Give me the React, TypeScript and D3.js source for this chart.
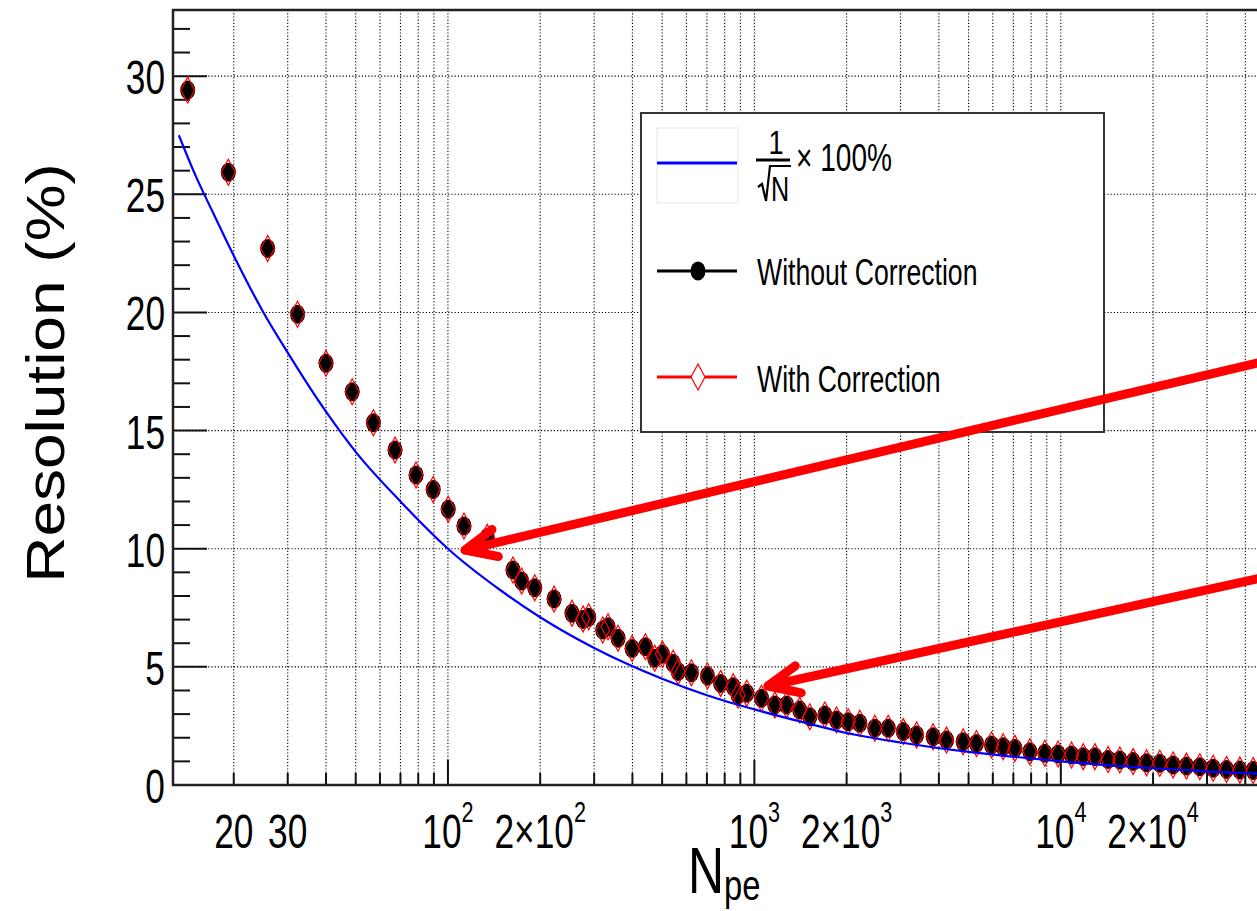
import * as d3 from "d3";

const W = 1257;
const H = 911;
const FRAME = { left: 173, right: 1275, top: 10, bottom: 785 };
const FONT = "'Liberation Sans', Arial, Helvetica, sans-serif";
const SX = 0.72; // the reference is squeezed horizontally

// N_pe of each measured point
const npe = [
  14.15, 19.2, 25.8, 32.3, 40.0, 48.7, 57.1, 67.2, 78.7, 89.5, 100.2, 112.8, 134.4,
  163, 174, 192, 222, 254, 276, 288, 320, 333, 359, 399, 441, 473, 501, 543, 564,
  623, 703, 776, 853, 885, 944, 1055, 1166, 1274, 1406, 1517, 1698, 1854, 2023,
  2208, 2472, 2733, 3061, 3383, 3831, 4237, 4800, 5306, 5942, 6484, 7083, 7925,
  8869, 9796, 10839, 11830, 12920, 14270, 15580, 17220, 19050, 21040, 23250,
  25700, 28420, 31420, 34740, 38400, 42450,
];
const resWithout = [
  29.41, 25.93, 22.71, 19.92, 17.85, 16.64, 15.33, 14.18, 13.12, 12.51, 11.67, 10.96, 10.48,
  9.1, 8.63, 8.35, 7.87, 7.27, 7.0, 7.1, 6.56, 6.7, 6.21, 5.78, 5.85, 5.36, 5.54, 5.15, 4.8,
  4.75, 4.61, 4.3, 4.16, 3.81, 3.88, 3.67, 3.39, 3.39, 3.17, 2.89, 2.96, 2.75, 2.68,
  2.61, 2.4, 2.4, 2.26, 2.12, 2.04, 1.9, 1.83, 1.76, 1.69, 1.62, 1.55, 1.41,
  1.34, 1.31, 1.27, 1.2, 1.2, 1.08, 1.06, 0.99, 0.94, 0.92, 0.85,
  0.8, 0.77, 0.71, 0.66, 0.63, 0.61,
];
const resWith = [
  29.41, 25.93, 22.71, 19.92, 17.85, 16.64, 15.33, 14.18, 13.12, 12.51, 11.67, 10.96, 10.48,
  9.1, 8.63, 8.35, 7.87, 7.27, 7.03, 7.12, 6.56, 6.7, 6.21, 5.78, 5.85, 5.36, 5.54, 5.15, 4.8,
  4.75, 4.61, 4.3, 4.16, 3.81, 3.88, 3.67, 3.39, 3.39, 3.17, 2.89, 2.96, 2.75, 2.68,
  2.61, 2.4, 2.4, 2.26, 2.12, 2.04, 1.9, 1.83, 1.76, 1.69, 1.62, 1.55, 1.41,
  1.34, 1.31, 1.27, 1.2, 1.2, 1.08, 1.06, 0.99, 0.94, 0.92, 0.85,
  0.8, 0.77, 0.71, 0.66, 0.63, 0.61,
];

// 1/sqrt(N) x 100% curve
const curveN = [13.24, 15, 17, 20, 25, 30, 40, 50, 70, 100, 150, 200, 300, 500, 700, 1000, 1500, 2000, 3000, 5000, 7000, 10000, 20000, 30000, 50000];
const curveRes = [27.5, 25.8, 24.3, 22.4, 20.0, 18.3, 15.8, 14.1, 12.0, 10.0, 8.2, 7.1, 5.8, 4.5, 3.8, 3.2, 2.6, 2.2, 1.8, 1.4, 1.2, 1.0, 0.71, 0.58, 0.45];

// labelled x ticks
const xLabelVals = [20, 30, 100, 200, 1000, 2000, 10000, 20000];
const xLabelBase = ["20", "30", "10", "2\u00d710", "10", "2\u00d710", "10", "2\u00d710"];
const xLabelExp = ["", "", "2", "2", "3", "3", "4", "4"];
const yMajor = [0, 5, 10, 15, 20, 25, 30];

// annotation arrows: [tail N, tail res, tip N, tip res]
const arrows = [
  [50000, 18.04, 113.6, 9.94],
  [50000, 8.89, 1107, 4.19],
];

const x = d3.scaleLog().domain([12.67, 50000]).range([FRAME.left, FRAME.right]);
const y = d3.scaleLinear().domain([0, 32.8]).range([FRAME.bottom, FRAME.top]);

const xAll: number[] = [];
for (let e = 1; e <= 4; e++) {
  for (let k = 1; k <= 9; k++) {
    const v = k * 10 ** e;
    if (v > 12.67 && x(v) < W) xAll.push(v);
  }
}
const yMinor = d3.range(1, 33).filter((v) => v % 5 !== 0);

const curveLine = d3
  .line<number>()
  .x((_, i) => x(curveN[i]))
  .y((d) => y(d))
  .curve(d3.curveMonotoneX);

function Txt({ tx, ty, size, anchor = "start", sx = SX, children }: any) {
  return (
    <text
      transform={`translate(${tx},${ty}) scale(${sx},1)`}
      fontSize={size}
      textAnchor={anchor}
      fontFamily={FONT}
      fill="#000"
    >
      {children}
    </text>
  );
}

function arrowPath(a: number[]) {
  const tx = x(a[0]), ty = y(a[1]), hx = x(a[2]), hy = y(a[3]);
  const th = Math.atan2(ty - hy, tx - hx);
  const L = 34, da = (24 * Math.PI) / 180;
  const b1 = [hx + L * Math.cos(th - da), hy + L * Math.sin(th - da)];
  const b2 = [hx + L * Math.cos(th + da), hy + L * Math.sin(th + da)];
  return `M${tx},${ty}L${hx},${hy}M${b1[0]},${b1[1]}L${hx},${hy}L${b2[0]},${b2[1]}`;
}

const diamond = "M0,-13L7,0L0,13L-7,0Z";

export default function App() {
  return (
    <svg width={W} height={H} style={{ position: "absolute", left: 0, top: 0, background: "#fff" }}>
      <rect width={W} height={H} fill="#fff" />

      {/* grid */}
      <g stroke="#000" strokeWidth={1.1} strokeDasharray="1.2,2">
        {xAll.map((v) => (
          <line key={v} x1={x(v)} x2={x(v)} y1={FRAME.top} y2={FRAME.bottom} />
        ))}
        {yMajor.filter((v) => v > 0).map((v) => (
          <line key={v} x1={FRAME.left} x2={FRAME.right} y1={y(v)} y2={y(v)} />
        ))}
      </g>

      {/* axes ticks */}
      <g stroke="#111" strokeWidth={2}>
        {xAll.map((v) => (
          <line key={v} x1={x(v)} x2={x(v)} y1={FRAME.bottom} y2={FRAME.bottom - (Math.log10(v) % 1 === 0 ? 25 : 12)} />
        ))}
        {yMajor.map((v) => (
          <line key={v} x1={FRAME.left} x2={FRAME.left + 34} y1={y(v)} y2={y(v)} />
        ))}
        {yMinor.map((v) => (
          <line key={v} x1={FRAME.left} x2={FRAME.left + 17} y1={y(v)} y2={y(v)} />
        ))}
      </g>
      <path
        d={`M${FRAME.right},${FRAME.top}H${FRAME.left}V${FRAME.bottom}H${FRAME.right}`}
        fill="none"
        stroke="#222"
        strokeWidth={2.5}
      />

      {/* tick labels */}
      {yMajor.map((v) => (
        <Txt key={v} tx={165} ty={y(v) + 18} size={49} anchor="end">
          {v}
        </Txt>
      ))}
      {xLabelVals.map((v, i) => (
        <Txt key={v} tx={x(v)} ty={848} size={49} anchor="middle">
          {xLabelBase[i]}
          {xLabelExp[i] && (
            <tspan fontSize={30} dy={-26}>
              {xLabelExp[i]}
            </tspan>
          )}
        </Txt>
      ))}

      {/* axis titles */}
      <text
        transform={`translate(64,373) rotate(-90) scale(1,0.84)`}
        fontSize={64}
        textAnchor="middle"
        fontFamily={FONT}
      >
        Resolution (%)
      </text>
      <Txt tx={688} ty={893} size={64} sx={0.78}>
        N<tspan fontSize={42} dy={7}>pe</tspan>
      </Txt>

      {/* data */}
      <g fill="#000">
        {npe.map((n, i) => (
          <ellipse key={i} cx={x(n)} cy={y(resWithout[i])} rx={7.5} ry={9.5} />
        ))}
      </g>
      <g fill="none" stroke="#ff0000" strokeWidth={1.2}>
        {npe.map((n, i) => (
          <path key={i} d={diamond} transform={`translate(${x(n)},${y(resWith[i])})`} />
        ))}
      </g>
      <path d={curveLine(curveRes) ?? ""} fill="none" stroke="#0000ff" strokeWidth={2.2} />

      {/* legend */}
      <rect x={641} y={113} width={463} height={319} fill="#fff" stroke="#333" strokeWidth={2} />
      <rect x={657} y={128} width={81} height={75} fill="none" stroke="#eee" strokeWidth={1.5} />
      <line x1={657} x2={737} y1={163} y2={163} stroke="#0000ff" strokeWidth={3} />
      <Txt tx={776} ty={154} size={34} anchor="middle" sx={0.8}>1</Txt>
      <line x1={756} x2={790} y1={160} y2={160} stroke="#000" strokeWidth={2.8} />
      <path d="M758,187L762,184L766,201L770,166H791" fill="none" stroke="#000" strokeWidth={2.2} />
      <Txt tx={771} ty={201} size={35}>N</Txt>
      <Txt tx={796} ty={171} size={39}>{"\u00d7 100%"}</Txt>

      <line x1={657} x2={737} y1={271} y2={271} stroke="#000" strokeWidth={3} />
      <ellipse cx={698} cy={271} rx={7.5} ry={9.5} fill="#000" />
      <Txt tx={757} ty={285} size={37}>Without Correction</Txt>

      <line x1={657} x2={737} y1={377} y2={377} stroke="#ff0000" strokeWidth={3} />
      <path d={diamond} transform="translate(698,377)" fill="#fff" stroke="#ff0000" strokeWidth={1.2} />
      <Txt tx={757} ty={392} size={37}>With Correction</Txt>

      {/* arrows */}
      <g fill="none" stroke="#ff0000" strokeWidth={9} strokeLinecap="round" strokeLinejoin="round">
        {arrows.map((a, i) => (
          <path key={i} d={arrowPath(a)} />
        ))}
      </g>
    </svg>
  );
}
